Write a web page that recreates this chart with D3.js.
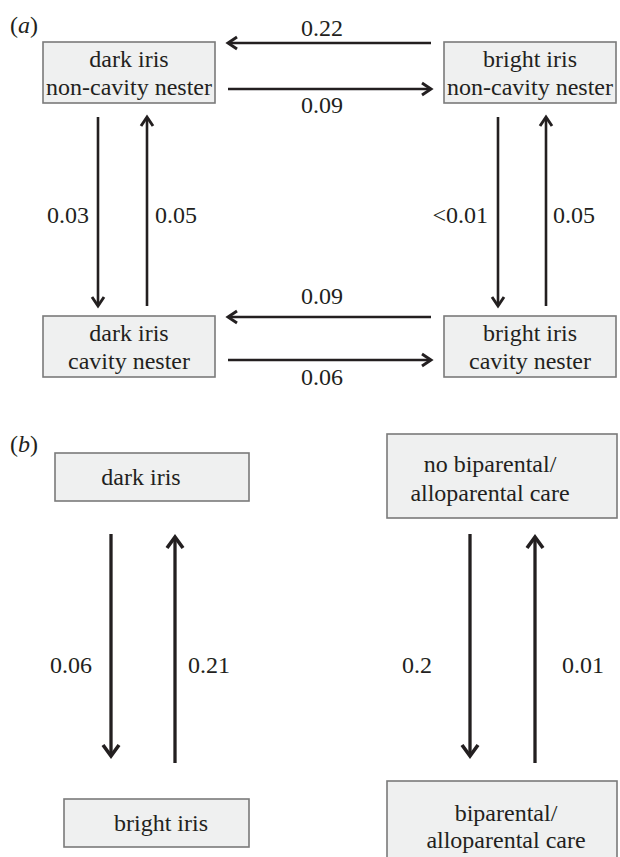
<!DOCTYPE html>
<html><head><meta charset="utf-8"><script src="https://cdn.jsdelivr.net/npm/d3@7"></script></head>
<body style="margin:0">
<svg id="chart" width="620" height="857" style="display:block"></svg>
<script>
// ---------------- data ----------------
const panelLabels = ["a", "b"];

// panel (a): four combined states
const statesA = [
  ["dark iris", "non-cavity nester"],
  ["bright iris", "non-cavity nester"],
  ["dark iris", "cavity nester"],
  ["bright iris", "cavity nester"]
];
// transitions in panel (a): [from, to, rate]
const ratesA = [
  [1, 0, "0.22"],
  [0, 1, "0.09"],
  [3, 2, "0.09"],
  [2, 3, "0.06"],
  [0, 2, "0.03"],
  [2, 0, "0.05"],
  [1, 3, "<0.01"],
  [3, 1, "0.05"]
];

// panel (b): two independent binary characters
const statesB = [
  ["dark iris"],
  ["no biparental/", "alloparental care"],
  ["bright iris"],
  ["biparental/", "alloparental care"]
];
const ratesB = [
  [0, 2, "0.06"],
  [2, 0, "0.21"],
  [1, 3, "0.2"],
  [3, 1, "0.01"]
];

// ---------------- layout ----------------
const FONT = "'Liberation Serif', cursive";
const FS = 24;
const svg = d3.select("#chart");
const ink = "#231f20";

// Panel (a) grid scales
const colA = d3.scaleOrdinal().domain([0, 1]).range([{x0: 43, x1: 215}, {x0: 444, x1: 616}]);
const rowA = d3.scaleOrdinal().domain([0, 1]).range([
  {y0: 42, y1: 103, arrowL: 43, labL: 36, arrowR: 89, labR: 113},
  {y0: 316, y1: 377, arrowL: 317, labL: 304, arrowR: 360, labR: 385}
]);

// Panel (b) boxes (irregular)
const boxesB = [
  {x0: 55, x1: 249, y0: 453, y1: 501, tx: 141},
  {x0: 387, x1: 617, y0: 434, y1: 518, tx: 490},
  {x0: 64, x1: 249, y0: 799, y1: 847, tx: 161},
  {x0: 387, x1: 617, y0: 781, y1: 862, tx: 506}
];

function box(g, b, lines, tx, baselines) {
  g.append("rect")
    .attr("x", b.x0).attr("y", b.y0)
    .attr("width", b.x1 - b.x0).attr("height", b.y1 - b.y0)
    .attr("fill", "#eff0f0").attr("stroke", "#7a7a7a").attr("stroke-width", 1.6);
  lines.forEach((t, i) => {
    g.append("text").attr("x", tx).attr("y", baselines[i])
      .attr("font-family", FONT).attr("fill", ink)
      .attr("text-anchor", "middle").attr("font-size", FS).text(t);
  });
}

function arrow(g, x1, y1, x2, y2, w, hl, hw) {
  const ang = Math.atan2(y2 - y1, x2 - x1);
  const ux = Math.cos(ang), uy = Math.sin(ang);
  const px = -uy, py = ux;
  g.append("line").attr("x1", x1).attr("y1", y1)
    .attr("x2", x2 - ux * 1.5).attr("y2", y2 - uy * 1.5)
    .attr("stroke", ink).attr("stroke-width", w);
  const p = d3.path();
  p.moveTo(x2 - ux * hl + px * hw, y2 - uy * hl + py * hw);
  p.lineTo(x2, y2);
  p.lineTo(x2 - ux * hl - px * hw, y2 - uy * hl - py * hw);
  g.append("path").attr("d", p.toString()).attr("fill", "none")
    .attr("stroke", ink).attr("stroke-width", w + 0.3)
    .attr("stroke-linejoin", "miter").attr("stroke-linecap", "butt");
}

function label(g, x, y, t, anchor) {
  g.append("text").attr("x", x).attr("y", y).attr("text-anchor", anchor || "middle")
    .attr("font-family", FONT).attr("fill", ink)
    .attr("font-size", FS).text(t);
}

panelLabels.forEach((p, i) => {
  const t = svg.append("text").attr("x", 10).attr("y", i === 0 ? 33 : 452)
    .attr("font-family", FONT).attr("fill", ink).attr("font-size", FS);
  t.append("tspan").text("(");
  t.append("tspan").attr("font-style", "italic").text(p);
  t.append("tspan").text(")");
});

// ---------------- panel (a) ----------------
const gA = svg.append("g");
statesA.forEach((lines, i) => {
  const c = colA(i % 2), r = rowA(Math.floor(i / 2));
  const b = {x0: c.x0, x1: c.x1, y0: r.y0, y1: r.y1};
  box(gA, b, lines, (c.x0 + c.x1) / 2, [r.y0 + 25, r.y0 + 53]);
});

const hx0 = 228, hx1 = 431;
const vLeft = [98, 147], vRight = [498, 546];
ratesA.forEach(([f, t, v]) => {
  const fr = Math.floor(f / 2), tr = Math.floor(t / 2);
  const fc = f % 2, tc = t % 2;
  if (fr === tr) {
    const r = rowA(fr);
    if (tc < fc) {
      arrow(gA, hx1, r.arrowL, hx0, r.arrowL, 2.6, 9, 6);
      label(gA, 322, r.labL, v);
    } else {
      arrow(gA, hx0, r.arrowR, hx1, r.arrowR, 2.6, 9, 6);
      label(gA, 322, r.labR, v);
    }
  } else {
    const xs = fc === 0 ? vLeft : vRight;
    const yTop = 117, yBot = 306;
    if (tr > fr) {
      arrow(gA, xs[0], yTop, xs[0], yBot, 2.6, 9, 6);
      label(gA, xs[0] - (fc === 0 ? 9 : 10), 223, v, "end");
    } else {
      arrow(gA, xs[1], yBot, xs[1], yTop, 2.6, 9, 6);
      label(gA, xs[1] + (fc === 0 ? 8 : 7), 223, v, "start");
    }
  }
});

// ---------------- panel (b) ----------------
const gB = svg.append("g");
boxesB.forEach((b, i) => {
  const lines = statesB[i];
  let bl;
  if (lines.length === 1) bl = [(b.y0 + b.y1) / 2 + 8];
  else bl = i === 1 ? [472, 501] : [821, 848];
  box(gB, b, lines, b.tx, bl);
});
const colsB = [{x: [111, 175], off: [19, 13]}, {x: [470, 535], off: [38, 27]}];
ratesB.forEach(([f, t, v]) => {
  const c = colsB[f % 2];
  const yTop = 534, yBot = 756;
  if (t > f) {
    arrow(gB, c.x[0], yTop, c.x[0], yBot, 3.3, 11, 8);
    label(gB, c.x[0] - c.off[0], 673, v, "end");
  } else {
    arrow(gB, c.x[1], yBot + 7, c.x[1], yTop + 3, 3.3, 11, 8);
    label(gB, c.x[1] + c.off[1], 673, v, "start");
  }
});
</script>
</body>
</html>
